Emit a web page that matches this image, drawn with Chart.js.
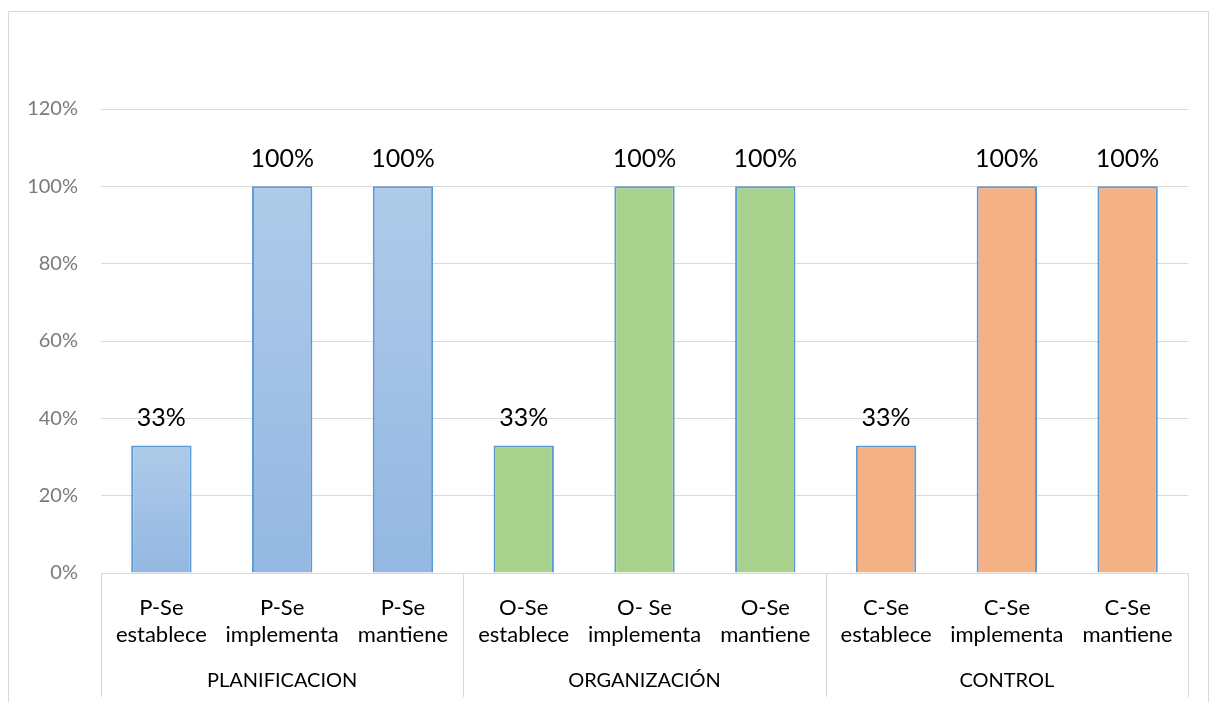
<!DOCTYPE html>
<html>
<head>
<meta charset="utf-8">
<script src="https://cdn.jsdelivr.net/npm/chart.js@4"></script>
<style>
  html, body { margin: 0; padding: 0; background: #fff; }
  #contenedor { width: 1218px; height: 702px; }
</style>
</head>
<body>
<div id="contenedor"><canvas id="grafico"></canvas></div>
<script>
// categorías del eje x (dos líneas por etiqueta)
const categorias = [
    ["P-Se", "establece"], ["P-Se", "implementa"], ["P-Se", "mantiene"],
    ["O-Se", "establece"], ["O- Se", "implementa"], ["O-Se", "mantiene"],
    ["C-Se", "establece"], ["C-Se", "implementa"], ["C-Se", "mantiene"],
];
const grupos = ["PLANIFICACION", "ORGANIZACIÓN", "CONTROL"];
const valores = [33, 100, 100, 33, 100, 100, 33, 100, 100];
const marcasY = [0, 20, 40, 60, 80, 100, 120];

const fuente = "Lato, 'Open Sans', sans-serif";
const colorBorde = "#5b9bd5";
const colorGrid = "#d9d9d9";

// color de cada barra según su grupo (degradado propio en las azules)
function colorBarra(context) {
    const grupo = Math.floor(context.dataIndex / 3);
    if (grupo === 1) return "#a9d18e";
    if (grupo === 2) return "#f4b183";
    const chart = context.chart;
    const area = chart.chartArea;
    if (!area || !chart.scales.y) return "#a4c2e6";
    const tope = chart.scales.y.getPixelForValue(context.raw);
    const g = chart.ctx.createLinearGradient(0, tope, 0, area.bottom);
    g.addColorStop(0, "#aecae9");
    g.addColorStop(1, "#94b8e2");
    return g;
}

// marco exterior, separadores de grupo y rótulos
const decoracion = {
    id: "decoracion",
    beforeDraw(chart) {
        const ctx = chart.ctx;
        ctx.save();
        ctx.strokeStyle = colorGrid;
        ctx.lineWidth = 1;
        ctx.strokeRect(8.5, 11.5, 1200, 700);
        ctx.restore();
    },
    afterDatasetsDraw(chart) {
        const ctx = chart.ctx;
        const meta = chart.getDatasetMeta(0);
        ctx.save();
        ctx.fillStyle = "#000";
        ctx.font = "25px " + fuente;
        ctx.textAlign = "center";
        ctx.textBaseline = "middle";
        meta.data.forEach((barra, i) => {
            ctx.fillText(valores[i] + "%", barra.x, barra.y - 27);
        });
        ctx.restore();
    },
    afterDraw(chart) {
        const ctx = chart.ctx;
        const x = chart.scales.x;
        const area = chart.chartArea;
        const ancho = (x.right - x.left) / categorias.length;
        ctx.save();
        ctx.strokeStyle = colorGrid;
        ctx.lineWidth = 1;
        for (let g = 0; g <= grupos.length; g++) {
            const px = Math.round(x.left + g * 3 * ancho) + 0.5;
            ctx.beginPath();
            ctx.moveTo(px, area.bottom);
            ctx.lineTo(px, 697);
            ctx.stroke();
        }
        ctx.fillStyle = "#000";
        ctx.font = "20px " + fuente;
        ctx.textAlign = "center";
        ctx.textBaseline = "middle";
        grupos.forEach((nombre, g) => {
            ctx.fillText(nombre, x.left + (g * 3 + 1.5) * ancho, 681);
        });
        ctx.restore();
    },
};

new Chart(document.getElementById("grafico"), {
    type: "bar",
    data: {
        labels: categorias,
        datasets: [{
            data: valores,
            backgroundColor: colorBarra,
            borderColor: colorBorde,
            borderWidth: 2,
            categoryPercentage: 1,
            barPercentage: 0.5,
        }],
    },
    options: {
        responsive: true,
        maintainAspectRatio: false,
        animation: false,
        layout: { padding: { top: 109, right: 30, bottom: 0, left: 0 } },
        plugins: {
            legend: { display: false },
            tooltip: { enabled: false },
        },
        scales: {
            y: {
                min: 0,
                max: 120,
                afterFit(scale) { scale.width = 101; },
                afterBuildTicks(scale) {
                    scale.ticks = marcasY.map((v) => ({ value: v }));
                },
                ticks: {
                    padding: 23,
                    color: "#7a7a7a",
                    font: { family: fuente, size: 20 },
                    callback: (v) => v + "%",
                },
                grid: { color: colorGrid, lineWidth: 1, drawTicks: false },
                border: { display: false },
            },
            x: {
                afterFit(scale) { scale.height = 129; },
                ticks: {
                    padding: 13,
                    color: "#000",
                    maxRotation: 0,
                    autoSkip: false,
                    font: { family: fuente, size: 22, lineHeight: 1.23 },
                },
                grid: { display: false },
                border: { display: false },
            },
        },
    },
    plugins: [decoracion],
});
</script>
</body>
</html>
